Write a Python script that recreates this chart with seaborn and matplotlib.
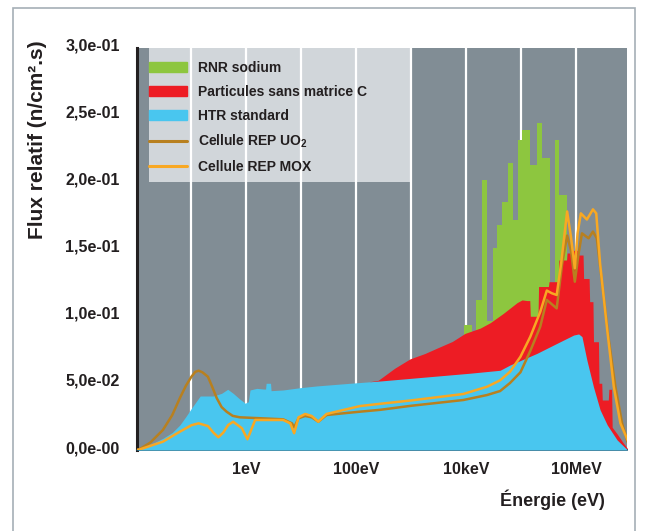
import pandas as pd
import seaborn as sns
import matplotlib.pyplot as plt
import matplotlib.transforms as mtransforms
from matplotlib.patches import Rectangle, Patch
from matplotlib.lines import Line2D

# x values are log10(energy in eV)
rnr_edges = [3.97, 4.11, 4.18, 4.29, 4.39, 4.49, 4.56, 4.65, 4.76, 4.86, 4.94,
             5.02, 5.16, 5.30, 5.38, 5.52, 5.62, 5.70, 5.84]
rnr_flux = [0.093, 0.088, 0.112, 0.2015, 0.096, 0.1505, 0.168, 0.185, 0.214, 0.172,
            0.231, 0.239, 0.213, 0.244, 0.218, 0.12, 0.231, 0.19]

part_x = [2.25, 2.40, 2.70, 2.98, 3.25, 3.47, 3.75, 3.98, 4.26, 4.44, 4.68, 4.93,
          5.02, 5.11, 5.16, 5.17, 5.31, 5.32, 5.50, 5.51, 5.68, 5.69, 5.83, 5.84,
          5.95, 5.96, 6.04, 6.05, 6.13, 6.14, 6.24, 6.25, 6.31, 6.32, 6.41, 6.42,
          6.47, 6.48, 6.59, 6.60, 6.65, 6.66, 6.75, 6.85, 6.94]
part_flux = [0.051, 0.052, 0.061, 0.068, 0.072, 0.076, 0.081, 0.087, 0.091, 0.095,
             0.102, 0.110, 0.112, 0.1115, 0.1115, 0.0998, 0.0998, 0.122, 0.122,
             0.1256, 0.1256, 0.1418, 0.1418, 0.147, 0.147, 0.149, 0.149, 0.1455,
             0.1455, 0.128, 0.128, 0.1107, 0.1107, 0.0808, 0.0808, 0.0498, 0.0498,
             0.0373, 0.0373, 0.0453, 0.0453, 0.017, 0.012, 0.006, 0.001]

htr_x = [-2.0, -1.95, -1.75, -1.52, -1.35, -1.21, -1.1, -1.0, -0.84, -0.6, -0.45,
         -0.34, -0.24, -0.12, -0.055, -0.024, 0.036, 0.067, 0.19, 0.31, 0.35, 0.36,
         0.44, 0.45, 0.46, 0.67, 0.98, 1.28, 1.89, 2.44, 3.0, 4.07, 4.62, 4.80,
         5.29, 5.65, 5.96, 6.05, 6.11, 6.20, 6.32, 6.44, 6.57, 6.75, 6.94]
htr_flux = [0.0, 0.0005, 0.004, 0.0087, 0.013, 0.0187, 0.025, 0.0311, 0.0403,
            0.0403, 0.0423, 0.0453, 0.0423, 0.038, 0.036, 0.0349, 0.036, 0.0448,
            0.046, 0.0455, 0.0455, 0.0498, 0.0498, 0.0443, 0.0443, 0.0448, 0.0465,
            0.0478, 0.0498, 0.0515, 0.0535, 0.0573, 0.0595, 0.0634, 0.0721, 0.0795,
            0.0858, 0.0866, 0.0846, 0.067, 0.047, 0.030, 0.0187, 0.0075, 0.0]

uo2_x = [-2.0, -1.95, -1.75, -1.52, -1.35, -1.21, -1.1, -1.0, -0.93, -0.87, -0.8,
         -0.7, -0.62, -0.54, -0.45, -0.36, -0.25, -0.12, 0.25, 0.67, 0.83, 0.87,
         0.95, 1.07, 1.19, 1.31, 1.46, 1.77, 2.07, 2.44, 3.0, 3.95, 4.38, 4.62,
         4.80, 4.99, 5.17, 5.35, 5.47, 5.65, 5.75, 5.84, 5.91, 5.98, 6.05, 6.11,
         6.23, 6.31, 6.38, 6.47, 6.59, 6.72, 6.84, 6.94]
uo2_flux = [0.0, 0.0005, 0.0055, 0.0149, 0.026, 0.0388, 0.048, 0.0547, 0.0583,
            0.0592, 0.058, 0.0547, 0.047, 0.0388, 0.032, 0.0286, 0.0255, 0.0244,
            0.0237, 0.0229, 0.0199, 0.0169, 0.0237, 0.0254, 0.0244, 0.0211, 0.0261,
            0.0274, 0.0286, 0.0300, 0.033, 0.0373, 0.041, 0.044, 0.050, 0.058,
            0.074, 0.092, 0.112, 0.1057, 0.139, 0.160, 0.149, 0.1256, 0.1468,
            0.1617, 0.158, 0.163, 0.158, 0.127, 0.0846, 0.047, 0.020, 0.006]

mox_x = [-2.0, -1.95, -1.52, -1.21, -1.0, -0.87, -0.7, -0.6, -0.51, -0.42, -0.33,
         -0.24, -0.08, 0.02, 0.16, 0.67, 0.80, 0.87, 0.95, 1.07, 1.19, 1.31, 1.46,
         1.77, 2.07, 2.44, 3.0, 3.95, 4.38, 4.62, 4.80, 4.99, 5.17, 5.35, 5.47,
         5.56, 5.65, 5.73, 5.84, 5.91, 5.98, 6.03, 6.09, 6.20, 6.31, 6.37, 6.44,
         6.57, 6.69, 6.81, 6.94]
mox_flux = [0.0, 0.0003, 0.0062, 0.0137, 0.0185, 0.0199, 0.0179, 0.013, 0.0095,
            0.013, 0.0187, 0.0211, 0.0162, 0.008, 0.0224, 0.0224, 0.0199, 0.0125,
            0.0244, 0.0269, 0.0254, 0.0211, 0.0269, 0.0299, 0.0328, 0.0345, 0.037,
            0.0418, 0.0472, 0.052, 0.0584, 0.0696, 0.0846, 0.103, 0.119, 0.117,
            0.1157, 0.139, 0.178, 0.159, 0.1356, 0.1617, 0.1766, 0.172, 0.1796,
            0.1766, 0.139, 0.0896, 0.047, 0.020, 0.0075]

x_ticks = [0, 2, 4, 6]
x_labels = ["1eV", "100eV", "10keV", "10MeV"]
y_ticks = [0.0, 0.05, 0.10, 0.15, 0.20, 0.25, 0.30]
y_labels = ["0,0e-00", "5,0e-02", "1,0e-01", "1,5e-01", "2,0e-01", "2,5e-01", "3,0e-01"]

BG = "#818d95"
GREEN = "#8dc63f"
RED = "#ed1c24"
BLUE = "#49c6ef"
BROWN = "#b8801f"
ORANGE = "#f8a823"
TXT = "#231f20"

sns.set_theme(style="white", rc={"axes.facecolor": BG})
plt.rcParams["font.family"] = ["Liberation Sans", "DejaVu Sans"]
plt.rcParams["font.weight"] = "bold"

fig = plt.figure(figsize=(6.47, 5.31), dpi=100)
ax = fig.add_axes([136.5 / 647, 1 - 450 / 531, 490.5 / 647, 402 / 531])

# legend panel behind the grid
ax.add_patch(Rectangle((-1.77, 0.2), 4.77, 0.1, facecolor="#d1d6da", edgecolor="none", zorder=0.2))

ax.fill_between(rnr_edges, rnr_flux + [rnr_flux[-1]], step="post", color=GREEN, lw=0, zorder=1)
ax.fill_between(part_x, part_flux, color=RED, lw=0, zorder=2)
ax.fill_between(htr_x, htr_flux, color=BLUE, lw=0, zorder=3)

uo2 = pd.DataFrame({"E": uo2_x, "flux": uo2_flux})
mox = pd.DataFrame({"E": mox_x, "flux": mox_flux})
sns.lineplot(data=uo2, x="E", y="flux", color=BROWN, lw=1.8, sort=False, estimator=None, ax=ax, zorder=4)
sns.lineplot(data=mox, x="E", y="flux", color=ORANGE, lw=1.8, sort=False, estimator=None, ax=ax, zorder=5)

ax.set_xlim(-2, 6.93)
ax.set_ylim(0, 0.3)
ax.set_xticks(x_ticks)
ax.set_xticklabels(x_labels)
ax.set_xticks(range(-1, 7), minor=True)
ax.set_yticks(y_ticks)
ax.set_yticklabels(y_labels)
ax.set_axisbelow(True)
ax.grid(axis="x", which="both", color="white", lw=1.6)
ax.grid(axis="y", visible=False)
ax.tick_params(axis="both", which="both", length=0, labelsize=11.5, labelcolor=TXT)
ax.tick_params(axis="x", pad=9)
ax.tick_params(axis="y", pad=12)
shift = mtransforms.ScaledTranslation(0, 0.03, fig.dpi_scale_trans)
for lbl in ax.get_yticklabels():
    lbl.set_transform(lbl.get_transform() + shift)
for lbl in ax.get_xticklabels() + ax.get_yticklabels():
    lbl.set_fontweight("bold")
ax.set_xlabel("")
ax.set_ylabel("")

for s in ["top", "right"]:
    ax.spines[s].set_visible(False)
ax.spines["left"].set_color(TXT)
ax.spines["left"].set_linewidth(2.2)
ax.spines["bottom"].set_color("#24495a")
ax.spines["bottom"].set_linewidth(1.2)

handles = [
    Patch(color=GREEN, label="RNR sodium"),
    Patch(color=RED, label="Particules sans matrice C"),
    Patch(color=BLUE, label="HTR standard"),
    Line2D([], [], color=BROWN, lw=2.2, label="Cellule REP UO$_\\mathregular{2}$"),
    Line2D([], [], color=ORANGE, lw=2.2, label="Cellule REP MOX"),
]
leg = ax.legend(handles=handles, loc="upper left", bbox_to_anchor=(0.0255, 0.968),
                frameon=False, borderpad=0, borderaxespad=0, handlelength=2.7,
                handleheight=0.7, handletextpad=0.8, labelspacing=0.72,
                prop={"size": 10, "weight": "bold"})
for t in leg.get_texts():
    t.set_color(TXT)

fig.text(38 / 647, 1 - 40 / 531, "Flux relatif (n/cm².s)", rotation=90, ha="center", va="top",
         fontsize=15, fontweight="bold", color=TXT)
fig.text(605 / 647, 1 - 500 / 531, "Énergie (eV)", ha="right", va="center",
         fontsize=13, fontweight="bold", color=TXT)

fig.add_artist(Rectangle((12.5 / 647, -0.1), 622.5 / 647, 1.1 - 7.5 / 531,
                         transform=fig.transFigure, fill=False, edgecolor="#a5afb6", lw=1.2))

fig.savefig("out.png", dpi=100)
